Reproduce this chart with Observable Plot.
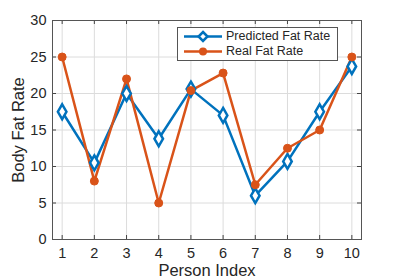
<!DOCTYPE html>
<html><head><meta charset="utf-8">
<script src="https://cdn.jsdelivr.net/npm/d3@7"></script>
<script src="https://cdn.jsdelivr.net/npm/@observablehq/plot@0.6"></script>
<style>
body{margin:0;background:#fff;font-family:"Liberation Sans",Arial,sans-serif;}
#wrap{position:relative;width:399px;height:278px;}
#legend{position:absolute;left:177px;top:27px;width:161px;height:34px;border:1px solid #555;background:#fff;box-sizing:border-box;font-size:12.5px;color:#262626;}
.row{position:absolute;left:0;height:15px;width:100%;}
.row svg{position:absolute;left:5px;top:0;}
.row span{position:absolute;left:48px;top:0;line-height:15px;white-space:nowrap;}
</style></head>
<body><div id="wrap"></div>
<script>
const persons = [1,2,3,4,5,6,7,8,9,10];
const predicted = [17.5,10.5,20,13.8,20.6,17,6,10.7,17.5,23.7];
const real = [25,8,22,5,20.4,22.8,7.5,12.5,15,25];
const xTicks = [1,2,3,4,5,6,7,8,9,10];
const yTicks = [0,5,10,15,20,25,30];
const seriesNames = ["Predicted Fat Rate","Real Fat Rate"];
const blue = "#0072BD", orange = "#D95319";

const predData = persons.map((p,i)=>({x:p,y:predicted[i]}));
const realData = persons.map((p,i)=>({x:p,y:real[i]}));
const W=399,H=278,mL=52,mR=38,mT=20,mB=39;
const ph = H-mT-mB, pw = W-mL-mR;

const chart = Plot.plot({
  width:W,height:H,marginLeft:mL,marginRight:mR,marginTop:mT,marginBottom:mB,
  style:{fontFamily:"Liberation Sans, Arial, sans-serif",fontSize:"14px",color:"#262626",background:"#fff"},
  x:{domain:[0.7,10.3]},
  y:{domain:[0,30]},
  marks:[
    Plot.gridX(xTicks,{stroke:"#dcdcdc",strokeOpacity:1}),
    Plot.gridY(yTicks,{stroke:"#dcdcdc",strokeOpacity:1}),
    Plot.tickX(xTicks,{x:d=>d,insetTop:ph-4,stroke:"#444"}),
    Plot.tickX(xTicks,{x:d=>d,insetBottom:ph-4,stroke:"#444"}),
    Plot.tickY(yTicks,{y:d=>d,insetRight:pw-4,stroke:"#444"}),
    Plot.tickY(yTicks,{y:d=>d,insetLeft:pw-4,stroke:"#444"}),
    Plot.axisX(xTicks,{tickSize:0,tickPadding:8,label:"Person Index",labelAnchor:"center",labelArrow:"none",labelOffset:36,fill:"#262626"}),
    Plot.axisY(yTicks,{tickSize:0,tickPadding:6,label:"Body Fat Rate",labelAnchor:"center",labelArrow:"none",labelOffset:40,fill:"#262626"}),
    Plot.frame({stroke:"#555"}),
    Plot.line(predData,{x:"x",y:"y",stroke:blue,strokeWidth:2.5}),
    Plot.line(realData,{x:"x",y:"y",stroke:orange,strokeWidth:2.5}),
    Plot.dot(predData,{x:"x",y:"y",symbol:"diamond",r:4.5,fill:"#fff",stroke:blue,strokeWidth:2.5}),
    Plot.dot(realData,{x:"x",y:"y",r:4,fill:orange,stroke:orange,strokeWidth:1})
  ]
});
chart.querySelectorAll('[aria-label="x-axis tick label"], [aria-label="y-axis tick label"]').forEach(g=>{g.setAttribute("font-size","14.5");g.querySelectorAll("text").forEach(t=>t.setAttribute("font-size","14.5"));});
chart.querySelectorAll('[aria-label="x-axis label"], [aria-label="y-axis label"]').forEach(g=>{g.setAttribute("font-size","16.5");g.querySelectorAll("text").forEach(t=>t.setAttribute("font-size","16.5"));});
document.getElementById("wrap").appendChild(chart);

const leg = document.createElement("div");
leg.id="legend";
const cols=[blue,orange], syms=["diamond","circle"];
seriesNames.forEach((n,i)=>{
  const r=document.createElement("div");r.className="row";r.style.top=(i===0?1:16)+"px";
  const mk = syms[i]==="diamond"
    ? `<polygon points="20,3 24.5,7.5 20,12 15.5,7.5" fill="#fff" stroke="${cols[i]}" stroke-width="2.5"/>`
    : `<circle cx="20" cy="7.5" r="4" fill="${cols[i]}"/>`;
  r.innerHTML=`<svg width="42" height="15"><line x1="1" y1="7.5" x2="39" y2="7.5" stroke="${cols[i]}" stroke-width="2.5"/>${mk}</svg><span>${n}</span>`;
  leg.appendChild(r);
});
document.getElementById("wrap").appendChild(leg);
</script></body></html>
